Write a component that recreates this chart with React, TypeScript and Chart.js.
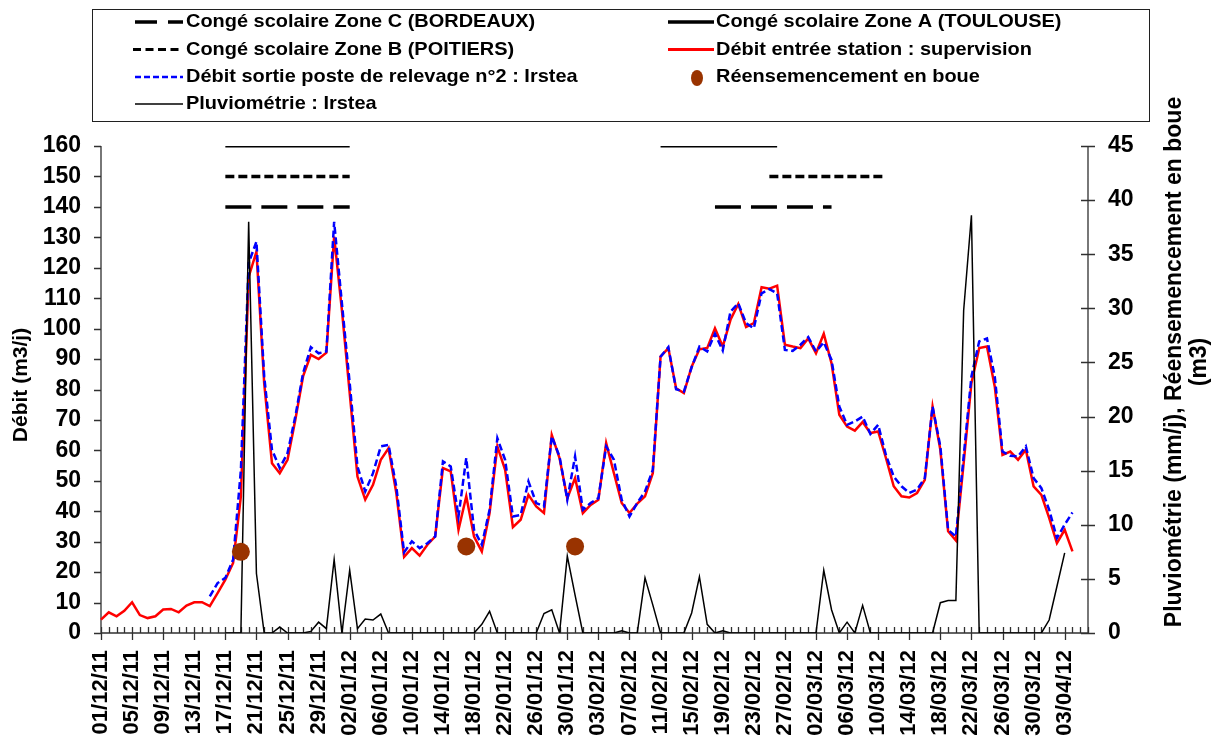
import React, { useEffect, useRef } from "react";
import { Chart, registerables } from "chart.js";

Chart.register(...registerables);

// ---------- categories (daily, 01/12/11 -> 06/04/12) ----------
const FIRST_DAY_UTC = Date.UTC(2011, 11, 1);
const DAY_COUNT = 128;
function makeDateLabels(): string[] {
  const out: string[] = [];
  for (let i = 0; i < DAY_COUNT; i++) {
    const d = new Date(FIRST_DAY_UTC + i * 86400000);
    const dd = String(d.getUTCDate()).padStart(2, "0");
    const mm = String(d.getUTCMonth() + 1).padStart(2, "0");
    const yy = String(d.getUTCFullYear()).slice(2);
    out.push(`${dd}/${mm}/${yy}`);
  }
  return out;
}
const dateLabels = makeDateLabels();
const LABEL_EVERY = 4;

// ---------- series ----------
// Débit entrée station : supervision (m3/j), from 01/12/11
const debitEntree = [
  4.4, 6.8, 5.5, 7.3, 10.1, 5.9, 4.9, 5.5, 7.7, 7.9, 6.8, 9.0, 10.1, 10.1, 8.8, 13.1,
  17.5, 23.0, 44.9, 117, 125.3, 82, 55.8, 52.5, 56.9, 70, 84.3, 91.4, 90, 92.1, 130.2, 106,
  78.8, 51.4, 43.8, 48.7, 56.9, 60.7, 46, 25, 27.9, 25.4, 29, 31.7, 54.2, 53.1, 33.9, 44.9,
  31.7, 26.8, 39.4, 61.3, 53.6, 34.8, 37.2, 45.4, 41.6, 39.4, 65.1, 57.5, 44.3, 50.9, 39.4, 42.1,
  43.8, 62.4, 52.5, 42.7, 39.4, 42.5, 44.9, 52.5, 90.8, 93.6, 80.4, 78.8, 87.5, 93.2, 93.6, 100.1,
  94.1, 102.9, 108.1, 100.5, 101.8, 113.6, 113.1, 114.1, 94.7, 94.1, 93.6, 96.8, 91.9, 98.3, 88.6, 71.7,
  67.8, 66.5, 69.3, 65.7, 66.2, 57.5, 48.2, 44.9, 44.5, 46, 50.3, 74.4, 60.2, 33.4, 30.4, 55.8,
  82.1, 93.6, 94.1, 81, 58.5, 59.6, 56.9, 60.2, 48.2, 45.4, 37.8, 29.5, 33.9, 26.8,
];

// Débit sortie poste de relevage n°2 : Irstea (m3/j)
const debitSortie = [
  null, null, null, null, null, null, null, null, null, null, null, null, null, null,
  12.0, 16.4, 18.1, 24.1, 53.6, 121.5, 128.6, 84.3, 60.2, 54.2, 59.1, 71.1, 85.4, 93.9, 91.9, 92.5,
  135.1, 108.3, 82.1, 54.7, 46.5, 52.5, 61.3, 61.8, 48.1, 26.5, 30.1, 27.9, 29.5, 31.7, 56.4, 54.7,
  38.3, 57.5, 33.9, 29, 40.5, 64, 56.9, 38.3, 38.8, 49.8, 42.7, 41.6, 64.6, 58, 43.8, 58,
  40.5, 42.7, 44.3, 61.3, 56.9, 43.8, 38.3, 42.7, 46.5, 53.6, 90.8, 93.9, 80.1, 79.3, 87.3, 94.1,
  92.5, 98.3, 92.8, 105.6, 108.3, 101.8, 100.1, 111.6, 113, 111.6, 93, 92.7, 94.7, 97.2, 92.5, 95.5,
  89.7, 74.4, 68.4, 69.5, 71.1, 65.4, 68.4, 58.5, 51.4, 48.2, 46, 47.1, 50.9, 74.4, 61.3, 33.9,
  31.7, 58, 84.3, 95.8, 96.8, 84.3, 59.6, 58.2, 58, 61.3, 50.9, 47.6, 40.5, 31.2, 35.6, 39.6,
];

// Pluviométrie : Irstea (mm/j)
const pluviometrie = [
  null, null, null, null, null, null, null, null, null, null, null, null, null, null, null, null,
  0, 0, 0, 38.0, 5.5, 0, 0, 0.55, 0, 0, 0, 0.15, 1.0, 0.4, 6.8, 0,
  5.8, 0.4, 1.3, 1.2, 1.75, 0, 0, 0, 0, 0, 0, 0, 0, 0, 0, 0,
  0, 0.8, 2.0, 0, 0, 0, 0, 0, 0, 1.8, 2.15, 0, 7.1, 3.5, 0, 0,
  0, 0, 0, 0.2, 0, 0, 5.1, 2.6, 0, 0, 0, 0, 1.85, 5.2, 0.8, 0,
  0.2, 0, 0, 0, 0, 0, 0, 0, 0, 0, 0, 0, 0, 5.8, 2.15, 0,
  1.0, 0, 2.55, 0, 0, 0, 0, 0, 0, 0, 0, 0, 2.8, 3.0, 3.0, 29.8,
  38.6, 0, 0, 0, 0, 0, 0, 0, 0, 0, 1.2, 4.3, 7.4,
];

// Réensemencement en boue (m3)
const reensemencementDates = ["19/12/11", "17/01/12", "31/01/12"];
const reensemencementValues = [7.5, 8, 8];

// Congés scolaires (first day, last day) and plotted level
const congeZoneA = [["17/12/11", "02/01/12"], ["11/02/12", "26/02/12"]];
const congeZoneB = [["17/12/11", "02/01/12"], ["25/02/12", "11/03/12"]];
const congeZoneC = [["17/12/11", "02/01/12"], ["18/02/12", "04/03/12"]];
const levelZoneA = 160;
const levelZoneB = 150;
const levelZoneC = 140;

// axis ticks
const leftMax = 160;
const leftStep = 10;
const rightMax = 45;
const rightStep = 5;

// ---------- helpers ----------
function holidaySeries(ranges: string[][], level: number) {
  return dateLabels.map((_, i) =>
    ranges.some(([a, b]) => i >= dateLabels.indexOf(a) && i <= dateLabels.indexOf(b)) ? level : null
  );
}
function pointSeries(dates: string[], values: number[]) {
  return dateLabels.map((lab) => {
    const k = dates.indexOf(lab);
    return k >= 0 ? values[k] : null;
  });
}

const FONT = "'Liberation Sans', Arial, sans-serif";

const decorPlugin = {
  id: "decor",
  beforeDatasetsDraw(chart: any) {
    const { ctx, chartArea: ca, scales } = chart;
    const xs = scales.x;
    const ys = scales.y;
    const y1 = scales.y1;
    ctx.save();
    ctx.strokeStyle = "#303030";
    ctx.lineWidth = 1.3;
    ctx.beginPath();
    ctx.moveTo(ca.left, ca.top);
    ctx.lineTo(ca.left, ca.bottom);
    ctx.moveTo(ca.right, ca.top);
    ctx.lineTo(ca.right, ca.bottom);
    ctx.moveTo(ca.left, ca.bottom);
    ctx.lineTo(ca.right, ca.bottom);
    for (let v = 0; v <= leftMax; v += leftStep) {
      const p = Math.round(ys.getPixelForValue(v)) + 0.5;
      ctx.moveTo(ca.left - 7, p);
      ctx.lineTo(ca.left, p);
    }
    for (let v = 0; v <= rightMax; v += rightStep) {
      const p = Math.round(y1.getPixelForValue(v)) + 0.5;
      ctx.moveTo(ca.right - 7, p);
      ctx.lineTo(ca.right + 7, p);
    }
    for (let i = 0; i < dateLabels.length; i++) {
      const p = Math.round(xs.getPixelForValue(i)) + 0.5;
      ctx.moveTo(p, ca.bottom - 6);
      ctx.lineTo(p, i % LABEL_EVERY === 0 ? ca.bottom + 7 : ca.bottom);
    }
    ctx.stroke();
    ctx.restore();
  },
  afterDraw(chart: any) {
    const { ctx } = chart;
    ctx.save();
    ctx.fillStyle = "#000";
    ctx.textBaseline = "middle";
    ctx.textAlign = "center";
    // axis titles
    ctx.font = `bold 21px ${FONT}`;
    ctx.save();
    ctx.translate(21, 385);
    ctx.rotate(-Math.PI / 2);
    ctx.fillText("Débit (m3/j)", 0, 0);
    ctx.restore();
    ctx.font = `bold 23px ${FONT}`;
    ctx.save();
    ctx.translate(1175, 362);
    ctx.rotate(-Math.PI / 2);
    ctx.fillText("Pluviométrie (mm/j), Réensemencement en boue", 0, 0);
    ctx.restore();
    ctx.save();
    ctx.translate(1200, 362);
    ctx.rotate(-Math.PI / 2);
    ctx.fillText("(m3)", 0, 0);
    ctx.restore();

    // legend box
    ctx.strokeStyle = "#202020";
    ctx.lineWidth = 1;
    ctx.strokeRect(92.5, 9.5, 1057, 112);
    const rows = [22, 49.5, 77, 104];
    const c1a = 135, c1b = 183, t1 = 186;
    const c2a = 668, c2b = 714, t2 = 716;
    const seg = (x0: number, x1: number, yy: number, color: string, w: number, dash: number[]) => {
      ctx.save();
      ctx.strokeStyle = color;
      ctx.lineWidth = w;
      ctx.setLineDash(dash);
      ctx.beginPath();
      ctx.moveTo(x0, yy);
      ctx.lineTo(x1, yy);
      ctx.stroke();
      ctx.restore();
    };
    // col 1
    seg(c1a, c1a + 22, rows[0], "#000", 3.5, []);
    seg(c1a + 33, c1b, rows[0], "#000", 3.5, []);
    seg(c1a - 2, c1b, rows[1], "#000", 3, [8, 4.5]);
    seg(c1a, c1b, rows[2], "#0000ff", 2.5, [6, 3]);
    seg(c1a, c1b, rows[3], "#000", 1.5, []);
    // col 2
    seg(c2a, c2b, rows[0], "#000", 3.5, []);
    seg(c2a, c2b, rows[1], "#ff0000", 3, []);
    ctx.save();
    ctx.fillStyle = "#993300";
    ctx.beginPath();
    ctx.ellipse(697, rows[2] + 1, 6, 8, 0, 0, Math.PI * 2);
    ctx.fill();
    ctx.restore();

    // legend labels: slightly wide bold text
    ctx.textAlign = "left";
    ctx.font = `bold 19px ${FONT}`;
    const txt = (s: string, x: number, y: number) => {
      ctx.save();
      ctx.translate(x, y);
      ctx.scale(1.05, 1);
      ctx.fillText(s, 0, 0);
      ctx.restore();
    };
    txt("Congé scolaire Zone C (BORDEAUX)", t1, rows[0]);
    txt("Congé scolaire Zone B (POITIERS)", t1, rows[1]);
    txt("Débit sortie poste de relevage n°2 : Irstea", t1, rows[2]);
    txt("Pluviométrie : Irstea", t1, rows[3]);
    txt("Congé scolaire Zone A (TOULOUSE)", t2, rows[0]);
    txt("Débit entrée station : supervision", t2, rows[1]);
    txt("Réensemencement en boue", t2, rows[2]);
    ctx.restore();
  },
};

export default function App() {
  const canvasRef = useRef<HTMLCanvasElement | null>(null);

  useEffect(() => {
    if (!canvasRef.current) return;
    const xFont = { family: FONT, size: 22, weight: "bold" as const };
    const yFont = { family: FONT, size: 23, weight: "bold" as const, lineHeight: 1 };
    const chart = new Chart(canvasRef.current, {
      type: "line",
      data: {
        labels: dateLabels,
        datasets: [
          {
            label: "Réensemencement en boue",
            data: pointSeries(reensemencementDates, reensemencementValues),
            yAxisID: "y1",
            showLine: false,
            pointRadius: 9,
            pointBackgroundColor: "#993300",
            pointBorderColor: "#993300",
            pointBorderWidth: 0,
            order: 0,
          },
          {
            label: "Pluviométrie : Irstea",
            data: pluviometrie,
            yAxisID: "y1",
            borderColor: "#000000",
            borderWidth: 1.5,
            pointRadius: 0,
            order: 1,
          },
          {
            label: "Débit sortie poste de relevage n°2 : Irstea",
            data: debitSortie,
            yAxisID: "y",
            borderColor: "#0000ff",
            borderWidth: 2.5,
            borderDash: [7, 3.5],
            pointRadius: 0,
            order: 2,
          },
          {
            label: "Débit entrée station : supervision",
            data: debitEntree,
            yAxisID: "y",
            borderColor: "#ff0000",
            borderWidth: 2.5,
            pointRadius: 0,
            order: 3,
          },
          {
            label: "Congé scolaire Zone A (TOULOUSE)",
            data: holidaySeries(congeZoneA, levelZoneA),
            yAxisID: "y",
            borderColor: "#000000",
            borderWidth: 3,
            pointRadius: 0,
            order: 4,
          },
          {
            label: "Congé scolaire Zone B (POITIERS)",
            data: holidaySeries(congeZoneB, levelZoneB),
            yAxisID: "y",
            borderColor: "#000000",
            borderWidth: 3.5,
            borderDash: [9, 4],
            pointRadius: 0,
            order: 4,
          },
          {
            label: "Congé scolaire Zone C (BORDEAUX)",
            data: holidaySeries(congeZoneC, levelZoneC),
            yAxisID: "y",
            borderColor: "#000000",
            borderWidth: 3.5,
            borderDash: [26, 10],
            pointRadius: 0,
            order: 4,
          },
        ],
      },
      options: {
        animation: false,
        responsive: true,
        maintainAspectRatio: false,
        spanGaps: false,
        layout: { padding: { top: 146, left: 0, right: 0, bottom: 0 } },
        plugins: { legend: { display: false }, tooltip: { enabled: false } },
        elements: { line: { tension: 0 } },
        scales: {
          x: {
            type: "category",
            grid: { display: false, drawTicks: false },
            border: { display: false },
            ticks: {
              autoSkip: false,
              maxRotation: 90,
              minRotation: 90,
              padding: 17,
              color: "#000",
              font: xFont,
              callback: (_v: any, i: number) => (i % LABEL_EVERY === 0 ? dateLabels[i] : ""),
            },
            afterFit: (s: any) => {
              s.height = 109;
            },
          },
          y: {
            position: "left",
            min: 0,
            max: leftMax,
            grid: { display: false, drawTicks: false },
            border: { display: false },
            ticks: { stepSize: leftStep, autoSkip: false, padding: 20, color: "#000", font: yFont },
            afterFit: (s: any) => {
              s.width = 101;
            },
          },
          y1: {
            position: "right",
            min: 0,
            max: rightMax,
            grid: { display: false, drawTicks: false },
            border: { display: false },
            ticks: { stepSize: rightStep, autoSkip: false, padding: 20, color: "#000", font: yFont },
            afterFit: (s: any) => {
              s.width = 125;
            },
          },
        },
      },
      plugins: [decorPlugin],
    } as any);
    return () => chart.destroy();
  }, []);

  return (
    <div style={{ position: "fixed", left: 0, top: 0, width: 1213, height: 742, background: "#fff" }}>
      <canvas ref={canvasRef} />
    </div>
  );
}
